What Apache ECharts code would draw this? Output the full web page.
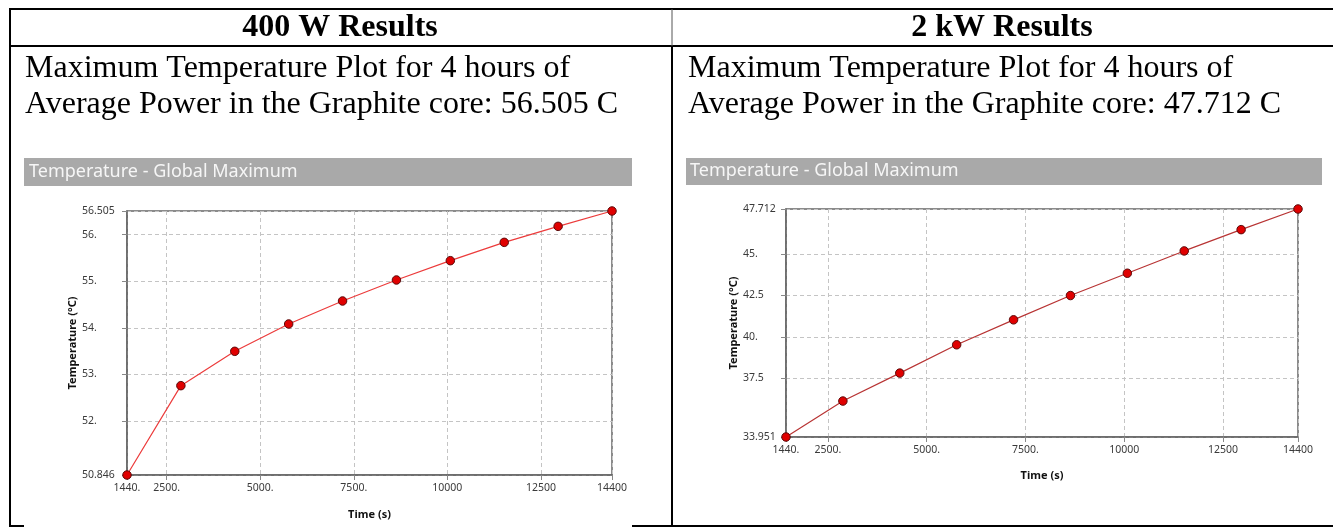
<!DOCTYPE html>
<html>
<head>
<meta charset="utf-8">
<script src="https://cdn.jsdelivr.net/npm/echarts@6/dist/echarts.min.js"></script>
<style>
  html, body { margin: 0; padding: 0; background: #fff; }
  #main { width: 1333px; height: 527px; }
</style>
</head>
<body>
<div id="main"></div>
<script>
// time steps (s) and max temperature (C)
var times = [1440, 2880, 4320, 5760, 7200, 8640, 10080, 11520, 12960, 14400];
var temp400W = [50.846, 52.761, 53.497, 54.083, 54.576, 55.026, 55.44, 55.833, 56.176, 56.505];
var temp2kW = [33.951, 36.121, 37.808, 39.516, 41.023, 42.489, 43.835, 45.181, 46.467, 47.712];

// tick values and labels as printed by the solver
var xTicks = [1440, 2500, 5000, 7500, 10000, 12500, 14400];
var xTickLabels = ['1440.', '2500.', '5000.', '7500.', '10000', '12500', '14400'];
var yTicks400W = [50.846, 52, 53, 54, 55, 56, 56.505];
var yTickLabels400W = ['50.846', '52.', '53.', '54.', '55.', '56.', '56.505'];
var yTicks2kW = [33.951, 37.5, 40, 42.5, 45, 47.712];
var yTickLabels2kW = ['33.951', '37.5', '40.', '42.5', '45.', '47.712'];

// table texts
var headers = ['400 W Results', '2 kW Results'];
var line1 = ['Maximum Temperature Plot for 4 hours of', 'Maximum Temperature Plot for 4 hours of'];
var line2 = ['Average Power in the Graphite core: 56.505 C', 'Average Power in the Graphite core: 47.712 C'];
var plotTitle = 'Temperature - Global Maximum';

function labelFor(ticks, labels) {
  return function (v) {
    var best = 0;
    for (var i = 1; i < ticks.length; i++) {
      if (Math.abs(ticks[i] - v) < Math.abs(ticks[best] - v)) best = i;
    }
    return labels[best];
  };
}

var chartDom = document.getElementById('main');
var myChart = echarts.init(chartDom);
var option;

var labelFont = { color: '#3a3a3a', fontSize: 10.5, fontFamily: 'Noto Sans' };
var nameFont = { color: '#111', fontSize: 11, fontWeight: 'bold', fontFamily: 'Noto Sans' };

function xAxisOf(idx) {
  return {
    type: 'value', gridIndex: idx, min: 1440, max: 14400,
    name: 'Time (s)', nameLocation: 'middle', nameGap: idx === 0 ? 34 : 33,
    nameTextStyle: nameFont,
    axisLine: { show: true, lineStyle: { color: '#666', width: 1.5 } },
    axisTick: { show: true, length: 5, customValues: xTicks, lineStyle: { color: '#888' } },
    axisLabel: Object.assign({ customValues: xTicks, margin: 8, formatter: labelFor(xTicks, xTickLabels) }, labelFont),
    splitLine: { show: true, lineStyle: { color: '#c4c4c4', type: [4, 3] } }
  };
}

function yAxisOf(idx, lo, hi, ticks, labels, gap, margin) {
  return {
    type: 'value', gridIndex: idx, min: lo, max: hi,
    name: 'Temperature (°C)', nameLocation: 'middle', nameGap: gap,
    nameTextStyle: nameFont,
    axisLine: { show: true, lineStyle: { color: '#666', width: 1.5 } },
    axisTick: { show: true, length: 5, customValues: ticks, lineStyle: { color: '#888' } },
    axisLabel: Object.assign({ customValues: ticks, margin: margin, align: 'left', formatter: labelFor(ticks, labels) }, labelFont),
    splitLine: { show: true, lineStyle: { color: '#c4c4c4', type: [4, 3] } }
  };
}

function pairs(ys) {
  return times.map(function (t, i) { return [t, ys[i]]; });
}

var serif = 'Liberation Serif';
var graphics = [
  // table rules
  { type: 'line', shape: { x1: 9, y1: 9, x2: 1333, y2: 9 }, style: { stroke: '#000', lineWidth: 2 } },
  { type: 'line', shape: { x1: 9, y1: 46, x2: 1333, y2: 46 }, style: { stroke: '#000', lineWidth: 2 } },
  { type: 'line', shape: { x1: 10, y1: 8, x2: 10, y2: 527 }, style: { stroke: '#000', lineWidth: 2 } },
  { type: 'line', shape: { x1: 672, y1: 9, x2: 672, y2: 46 }, style: { stroke: '#555', lineWidth: 1 } },
  { type: 'line', shape: { x1: 672, y1: 46, x2: 672, y2: 527 }, style: { stroke: '#000', lineWidth: 2 } },
  { type: 'line', shape: { x1: 9, y1: 526, x2: 24, y2: 526 }, style: { stroke: '#000', lineWidth: 2 } },
  { type: 'line', shape: { x1: 632, y1: 526, x2: 1333, y2: 526 }, style: { stroke: '#000', lineWidth: 2 } },
  // headers
  { type: 'text', style: { text: headers[0], x: 340, y: 28, textAlign: 'center', textVerticalAlign: 'middle', font: 'bold 32px "' + serif + '"', fill: '#000' } },
  { type: 'text', style: { text: headers[1], x: 1002, y: 28, textAlign: 'center', textVerticalAlign: 'middle', font: 'bold 32px "' + serif + '"', fill: '#000' } },
  // descriptions
  { type: 'text', style: { text: line1[0], x: 25, y: 69, textVerticalAlign: 'middle', font: '32px "' + serif + '"', fill: '#000' } },
  { type: 'text', style: { text: line2[0], x: 25, y: 105, textVerticalAlign: 'middle', font: '32px "' + serif + '"', fill: '#000' } },
  { type: 'text', style: { text: line1[1], x: 688, y: 69, textVerticalAlign: 'middle', font: '32px "' + serif + '"', fill: '#000' } },
  { type: 'text', style: { text: line2[1], x: 688, y: 105, textVerticalAlign: 'middle', font: '32px "' + serif + '"', fill: '#000' } },
  // gray title bars
  { type: 'rect', shape: { x: 24, y: 158, width: 608, height: 28 }, style: { fill: '#a9a9a9' } },
  { type: 'rect', shape: { x: 686, y: 158, width: 636, height: 27 }, style: { fill: '#a9a9a9' } },
  { type: 'text', style: { text: plotTitle, x: 29, y: 172, textVerticalAlign: 'middle', font: '18px "Noto Sans"', fill: '#f6f6f6' } },
  { type: 'text', style: { text: plotTitle, x: 690, y: 171, textVerticalAlign: 'middle', font: '18px "Noto Sans"', fill: '#f6f6f6' } }
];

option = {
  animation: false,
  backgroundColor: '#fff',
  graphic: graphics,
  grid: [
    { left: 127, top: 211, width: 485, height: 264, show: true, borderColor: '#666', borderWidth: 1.5, backgroundColor: '#fff' },
    { left: 786, top: 209, width: 512, height: 228, show: true, borderColor: '#666', borderWidth: 1.5, backgroundColor: '#fff' }
  ],
  xAxis: [xAxisOf(0), xAxisOf(1)],
  yAxis: [
    yAxisOf(0, 50.846, 56.505, yTicks400W, yTickLabels400W, 48, 45),
    yAxisOf(1, 33.951, 47.712, yTicks2kW, yTickLabels2kW, 47, 43)
  ],
  series: [
    {
      type: 'line', xAxisIndex: 0, yAxisIndex: 0, data: pairs(temp400W),
      symbol: 'circle', symbolSize: 8.5,
      lineStyle: { color: '#ec3b3b', width: 1.2 },
      itemStyle: { color: '#e00000', borderColor: '#5a0a0a', borderWidth: 1 }
    },
    {
      type: 'line', xAxisIndex: 1, yAxisIndex: 1, data: pairs(temp2kW),
      symbol: 'circle', symbolSize: 8.5,
      lineStyle: { color: '#b83434', width: 1.2 },
      itemStyle: { color: '#e00000', borderColor: '#5a0a0a', borderWidth: 1 }
    }
  ]
};

option && myChart.setOption(option);
</script>
</body>
</html>
